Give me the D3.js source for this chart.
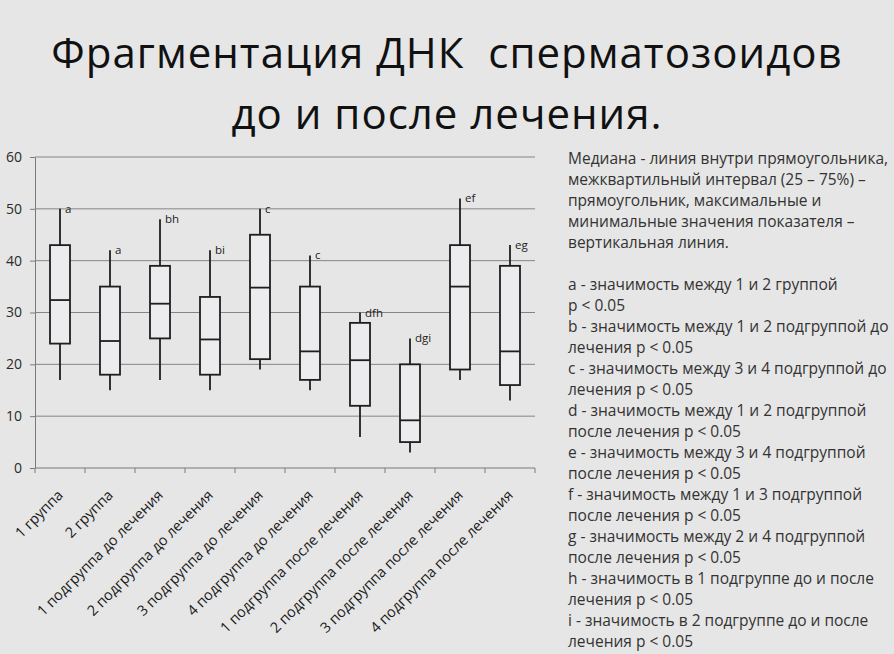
<!DOCTYPE html>
<html><head>
<meta charset="utf-8">
<script src="https://d3js.org/d3.v7.min.js"></script>
<style>
  body { margin: 0; background: #e6e6e6; }
  svg { display: block; font-family: "Open Sans", "Noto Sans", sans-serif; }
  .grid line { stroke: #858585; stroke-width: 1px; }
  .axis path, .axis line { stroke: #7a7a7a; }
  .box { fill: #ececee; stroke: #1e1e1e; stroke-width: 1.8px; }
  .whisker, .median { stroke: #1e1e1e; stroke-width: 1.8px; }
</style>
</head>
<body>
<svg id="chart" width="894" height="654"></svg>
<script>

  // data
  const categories = ["1 группа", "2 группа",
    "1 подгруппа до лечения", "2 подгруппа до лечения",
    "3 подгруппа до лечения", "4 подгруппа до лечения",
    "1 подгруппа после лечения", "2 подгруппа после лечения",
    "3 подгруппа после лечения", "4 подгруппа после лечения"];
  const minValues    = [17, 15, 17, 15, 19, 15,  6,  3, 17, 13];
  const q1Values     = [24, 18, 25, 18, 21, 17, 12,  5, 19, 16];
  const medianValues = [32.4, 24.5, 31.7, 24.8, 34.8, 22.5, 20.8, 9.2, 35, 22.5];
  const q3Values     = [43, 35, 39, 33, 45, 35, 28, 20, 43, 39];
  const maxValues    = [50, 42, 48, 42, 50, 41, 30, 25, 52, 43];
  const marks = ["a", "a", "bh", "bi", "c", "c", "dfh", "dgi", "ef", "eg"];
  const yTicks = [0, 10, 20, 30, 40, 50, 60];

  const titleLines = ["Фрагментация ДНК  сперматозоидов", "до и после лечения."];
  const noteLines = [
    "Медиана - линия внутри прямоугольника,",
    "межквартильный интервал (25 – 75%) –",
    "прямоугольник, максимальные и",
    "минимальные значения показателя –",
    "вертикальная линия.",
    "",
    "a - значимость между 1 и 2 группой",
    "p < 0.05",
    "b - значимость между 1 и 2 подгруппой до",
    "лечения p < 0.05",
    "c - значимость между 3 и 4 подгруппой до",
    "лечения p < 0.05",
    "d - значимость между 1 и 2 подгруппой",
    "после лечения p < 0.05",
    "e - значимость между 3 и 4 подгруппой",
    "после лечения p < 0.05",
    "f - значимость между 1 и 3 подгруппой",
    "после лечения p < 0.05",
    "g - значимость между 2 и 4 подгруппой",
    "после лечения p < 0.05",
    "h - значимость в 1 подгруппе до и после",
    "лечения p < 0.05",
    "i - значимость в 2 подгруппе до и после",
    "лечения p < 0.05"
  ];

  const svg = d3.select("#chart");
  const margin = { top: 157, left: 35, right: 359, bottom: 186 };
  const x0 = margin.left, x1 = 894 - margin.right;
  const yBottom = 654 - margin.bottom;

  const x = d3.scaleBand().domain(categories).range([x0, x1]).padding(0);
  const y = d3.scaleLinear().domain([0, 60]).range([yBottom, margin.top]);

  // title
  svg.append("g").selectAll("text")
    .data(titleLines).join("text")
    .attr("x", 447)
    .attr("y", (d, i) => 68 + i * 61)
    .attr("text-anchor", "middle")
    .attr("font-size", 42)
    .attr("letter-spacing", 1)
    .attr("fill", "#111")
    .style("white-space", "pre")
    .text(d => d);

  // gridlines
  svg.append("g").attr("class", "grid")
    .selectAll("line")
    .data(yTicks.slice(1)).join("line")
    .attr("x1", x0).attr("x2", x1)
    .attr("y1", d => y(d)).attr("y2", d => y(d));

  // y axis
  const yAxis = svg.append("g").attr("class", "axis")
    .attr("transform", "translate(" + x0 + ",0)")
    .call(d3.axisLeft(y).tickValues(yTicks).tickSize(5).tickPadding(8).tickSizeOuter(0));
  yAxis.selectAll("text").attr("font-size", 14).attr("fill", "#2a2a2a")
    .style("font-family", "'Open Sans', sans-serif");

  // x axis, ticks on band edges
  const xAxis = svg.append("g").attr("class", "axis")
    .attr("transform", "translate(0," + yBottom + ")");
  xAxis.append("line").attr("x1", x0).attr("x2", x1).attr("stroke", "#7a7a7a");
  xAxis.selectAll(".edge")
    .data(categories.concat([null])).join("line")
    .attr("class", "edge")
    .attr("x1", (d, i) => x0 + i * x.bandwidth())
    .attr("x2", (d, i) => x0 + i * x.bandwidth())
    .attr("y1", 0).attr("y2", 5);
  xAxis.selectAll(".lbl")
    .data(categories).join("text")
    .attr("class", "lbl")
    .attr("text-anchor", "end")
    .attr("font-size", 14.5)
    .attr("fill", "#1a1a1a")
    .attr("transform", d => "translate(" + (x(d) + x.bandwidth() / 2 + 4) + ",28) rotate(-45)")
    .text(d => d);

  // boxes
  const boxW = x.bandwidth() * 0.4;
  const boxes = svg.append("g").selectAll("g")
    .data(categories).join("g")
    .attr("transform", d => "translate(" + (x(d) + x.bandwidth() / 2) + ",0)");

  boxes.append("line").attr("class", "whisker")
    .attr("x1", 0).attr("x2", 0)
    .attr("y1", (d, i) => y(maxValues[i])).attr("y2", (d, i) => y(minValues[i]));
  boxes.append("rect").attr("class", "box")
    .attr("x", -boxW / 2).attr("width", boxW)
    .attr("y", (d, i) => y(q3Values[i]))
    .attr("height", (d, i) => y(q1Values[i]) - y(q3Values[i]));
  boxes.append("line").attr("class", "median")
    .attr("x1", -boxW / 2).attr("x2", boxW / 2)
    .attr("y1", (d, i) => y(medianValues[i])).attr("y2", (d, i) => y(medianValues[i]));
  boxes.append("text")
    .attr("x", 5)
    .attr("y", (d, i) => y(maxValues[i]) + 4)
    .attr("font-size", 11.5)
    .attr("fill", "#222")
    .text((d, i) => marks[i]);

  // notes on the right
  svg.append("g").selectAll("text")
    .data(noteLines).join("text")
    .attr("x", 568)
    .attr("y", (d, i) => 164 + i * 21)
    .attr("font-size", 15.5)
    .attr("fill", "#333")
    .text(d => d);

</script>
</body>
</html>
